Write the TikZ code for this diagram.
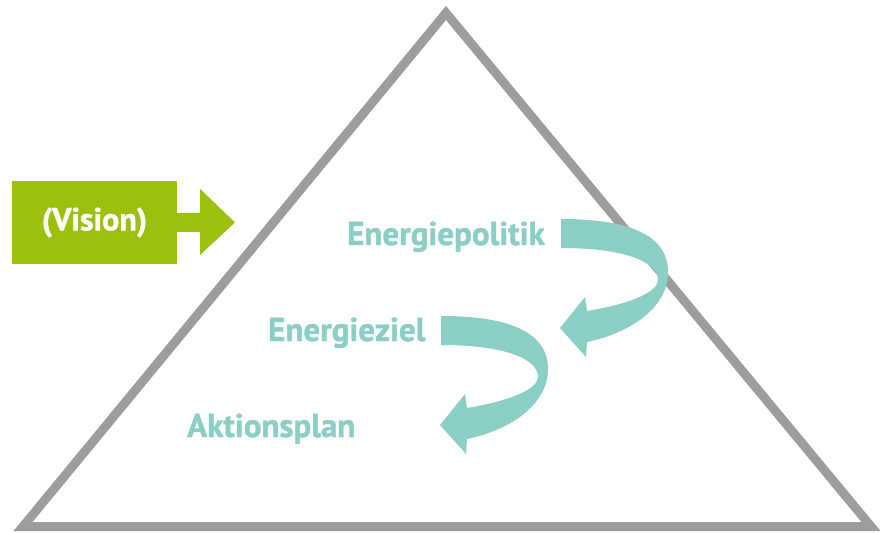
\documentclass[tikz,border=0pt]{standalone}
\usepackage{fontspec}
\setmainfont{PT Sans}
\newfontfamily\labelfont[FakeBold=1.2]{PT Sans}
\definecolor{pyramidgray}{HTML}{9D9D9F}
\definecolor{visiongreen}{HTML}{9BC00E}
\definecolor{stepteal}{HTML}{8BCEC5}

\begin{document}
\begin{tikzpicture}[x=1pt,y=-1pt,
    steplabel/.style={anchor=base west, inner sep=0pt, text=stepteal, font=\labelfont\bfseries\fontsize{33}{33}\selectfont},
    visionbox/.style={fill=visiongreen, text=white, minimum width=165pt, minimum height=83pt, inner sep=0pt, font=\labelfont\bfseries\fontsize{32}{32}\selectfont}]
    % Keep the canvas at the size of the reference
    \useasboundingbox (0,0) rectangle (890,534);

    % Define the corners of the pyramid
    \coordinate (pTop) at (446,13);
    \coordinate (pLeft) at (23,526.5);
    \coordinate (pRight) at (871,526.5);

    % Draw the pyramid outline
    \draw[pyramidgray, line width=9pt, line join=miter] (pTop) -- (pRight) -- (pLeft) -- cycle;

    % Vision box with its arrow into the pyramid
    \node[visionbox] (vision) at (94.5,222.5) {(Vision)};
    \fill[visiongreen] (vision.east) ++(0,-9.5) -- ++(23,0) -- ++(0,-24) -- (235,222.5)
        -- (200,255) -- (200,232) -- (vision.east |- 0,232) -- cycle;

    % Levels of the pyramid
    \node[steplabel] (politik) at (347,245) {Energiepolitik};
    \node[steplabel] (ziel) at (268,341) {Energieziel};
    \node[steplabel] (aktion) at (187,437) {Aktionsplan};

    % Draw the curved arrows from one level down to the next
    \foreach \dx/\dy in {0/0, -120/97} {
        \fill[stepteal, shift={(\dx,\dy)}] (561,219) .. controls (635,219) and (668,238) .. (668,272)
            .. controls (668,308) and (630,333) .. (587,342)
            -- (586,357) -- (560,328) -- (585,297) -- (587,311)
            .. controls (630,304) and (658,292) .. (658,280)
            .. controls (658,262) and (625,248) .. (561,248) -- cycle;
    }

\end{tikzpicture}
\end{document}
